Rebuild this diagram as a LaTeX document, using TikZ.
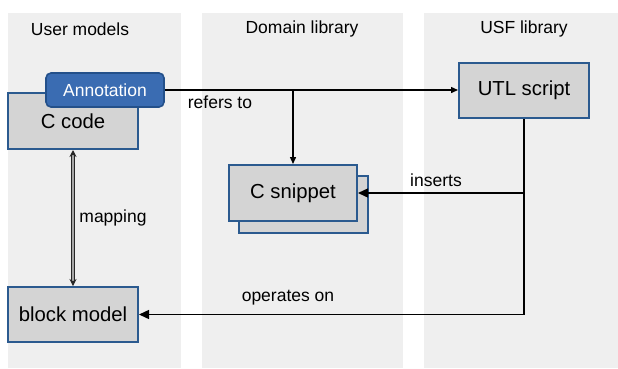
\documentclass[tikz,border=0pt]{standalone}
\usepackage{fontspec}
\setmainfont{Liberation Sans}
\usetikzlibrary{arrows.meta}

\definecolor{panelgray}{HTML}{EFEFEF}
\definecolor{boxgray}{HTML}{D4D4D4}
\definecolor{boxblue}{HTML}{2B5A8F}
\definecolor{annfill}{HTML}{3A6CB2}
\definecolor{annedge}{HTML}{23508A}

\tikzset{
  panel/.style={fill=panelgray, draw=none},
  title/.style={font=\fontsize{17.5}{20}\selectfont, text=black},
  lbl/.style={font=\fontsize{17.5}{20}\selectfont, text=black},
  block/.style={draw=boxblue, fill=boxgray, line width=2pt, minimum width=130pt,
    minimum height=55pt, font=\fontsize{20.3}{24}\selectfont, inner sep=0pt},
  annot/.style={draw=annedge, fill=annfill, line width=1.6pt, rounded corners=5pt,
    minimum width=118pt, minimum height=34pt, text=white,
    font=\fontsize{17.5}{20}\selectfont, inner sep=0pt},
  conn/.style={line width=1.4pt, draw=black, -{Triangle[length=10pt,width=9pt]}},
  connsmall/.style={line width=1.4pt, draw=black, -{Triangle[length=7pt,width=6pt]}},
  maparrow/.style={draw=black!85, double=black!35, double distance=1.4pt, line width=1pt,
    {Stealth[length=7pt,width=7pt]}-{Stealth[length=7pt,width=7pt]}},
}

\begin{document}
\begin{tikzpicture}[x=1pt, y=-1pt]
  \useasboundingbox (0,0) rectangle (618,368);

  % column panels
  \fill[panel] (8,13) rectangle (181,368);
  \fill[panel] (202,13) rectangle (403,368);
  \fill[panel] (424,13) rectangle (618,368);

  % column titles
  \node[title] (tuser) at (80,29) {User models};
  \node[title] (tdom) at (302,29) {Domain library};
  \node[title] (tusf) at (524,29) {USF library};

  % user models
  \node[block, minimum height=56pt] (ccode) at (73,121) {C code};
  \node[annot] (ann) at (105,90) {Annotation};
  \node[block] (bmodel) at (73,314.5) {block model};

  % domain library: stacked snippets
  \node[block, minimum width=129pt, minimum height=57pt] (snipback) at (303.5,204.5) {};
  \node[block, minimum width=128pt, minimum height=56pt] (snip) at (293,193) {C snippet};

  % USF library
  \node[block] (utl) at (524,90.5) {UTL script};

  % connectors
  \coordinate (branch) at (snip.north |- ann.east);
  \draw[connsmall] (ann.east) -- (ann.east -| utl.west);
  \draw[connsmall] (branch) -- (snip.north);
  \draw[conn] (utl.south) |- (bmodel.east);
  \coordinate (tap) at (utl.south |- snip.east);
  \draw[conn] (tap) -- (snip.east);
  \draw[maparrow] (ccode.south) -- (bmodel.north);

  % connector labels
  \node[lbl] (lrefers) at (220,102) {refers to};
  \node[lbl] (linserts) at (436,180) {inserts};
  \node[lbl] (lmapping) at (113,218) {mapping};
  \node[lbl] (loperates) at (288,298) {operates on};
\end{tikzpicture}
\end{document}
